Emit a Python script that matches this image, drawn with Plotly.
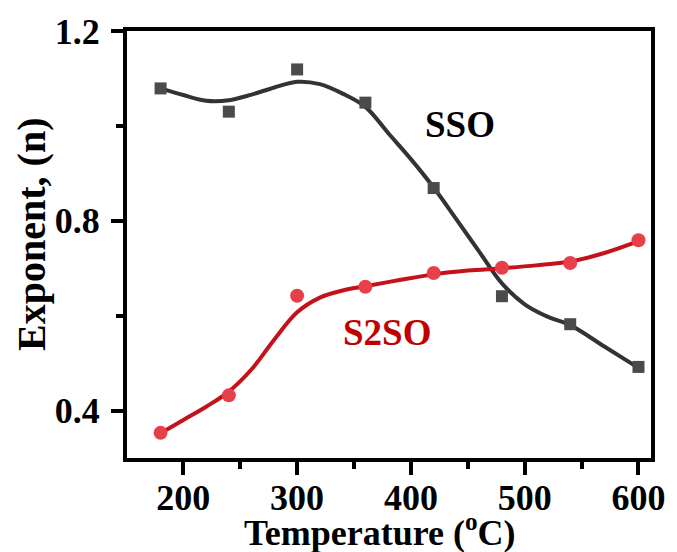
import plotly.graph_objects as go

# Measured data points
temps = [180, 240, 300, 360, 420, 480, 540, 600]
sso_n = [1.079, 1.030, 1.119, 1.049, 0.869, 0.641, 0.582, 0.492]
s2so_n = [0.353, 0.432, 0.642, 0.661, 0.690, 0.701, 0.711, 0.759]

# Smoothed fit curves
sso_fit_t = [180, 200, 220, 240, 260, 280, 300, 320, 340, 360, 380, 400, 420, 440, 460, 480, 500, 520, 540, 570, 600]
sso_fit_n = [1.079, 1.065, 1.053, 1.054, 1.066, 1.081, 1.093, 1.088, 1.068, 1.040, 0.985, 0.930, 0.870, 0.803, 0.735, 0.668, 0.624, 0.598, 0.580, 0.535, 0.490]

s2so_fit_t = [180, 200, 220, 240, 260, 280, 300, 320, 340, 360, 390, 420, 450, 480, 510, 540, 570, 600]
s2so_fit_n = [0.352, 0.380, 0.408, 0.440, 0.487, 0.550, 0.607, 0.638, 0.653, 0.662, 0.675, 0.687, 0.695, 0.700, 0.706, 0.714, 0.732, 0.757]

x_tickvals = [200, 300, 400, 500, 600]
x_ticklabels = ["200", "300", "400", "500", "600"]
y_tickvals = [0.4, 0.8, 1.2]
y_ticklabels = ["0.4", "0.8", "1.2"]

FONT = "Liberation Serif"

fig = go.Figure()
fig.add_trace(go.Scatter(x=sso_fit_t, y=sso_fit_n, mode="lines",
                         line=dict(color="#333333", width=4, shape="spline", smoothing=1.0),
                         hoverinfo="skip", showlegend=False))
fig.add_trace(go.Scatter(x=s2so_fit_t, y=s2so_fit_n, mode="lines",
                         line=dict(color="#c3121b", width=4, shape="spline", smoothing=1.0),
                         hoverinfo="skip", showlegend=False))
fig.add_trace(go.Scatter(x=temps, y=sso_n, mode="markers", name="SSO",
                         marker=dict(symbol="square", size=12, color="#4b4b4b"),
                         showlegend=False))
fig.add_trace(go.Scatter(x=temps, y=s2so_n, mode="markers", name="S2SO",
                         marker=dict(symbol="circle", size=14, color="#e8404a"),
                         showlegend=False))

axis_common = dict(
    showline=True, linewidth=4, linecolor="black", mirror=True,
    ticks="outside", tickwidth=4, tickcolor="black",
    showgrid=False, zeroline=False,
    tickfont=dict(family=FONT, size=36, color="black", weight="bold"),
)

fig.update_xaxes(range=[150.5, 611], tickvals=x_tickvals,
                 ticktext=["<b>%s</b>" % t for t in x_ticklabels], ticklen=13,
                 ticklabelstandoff=-8,
                 minor=dict(ticks="outside", ticklen=7, tickwidth=4, tickcolor="black", dtick=50, tick0=0),
                 **axis_common)
fig.update_yaxes(range=[0.30, 1.2], tickvals=y_tickvals,
                 ticktext=["<b>%s</b>" % t for t in y_ticklabels], ticklen=12,
                 ticklabelstandoff=4,
                 minor=dict(ticks="outside", ticklen=7, tickwidth=4, tickcolor="black", dtick=0.2, tick0=0),
                 **axis_common)

fig.add_annotation(x=443, y=1.002, xref="x", yref="y", text="<b>SSO</b>", showarrow=False,
                   font=dict(family=FONT, size=37, color="black", weight="bold"))
fig.add_annotation(x=379, y=0.565, xref="x", yref="y", text="<b>S2SO</b>", showarrow=False,
                   font=dict(family=FONT, size=37, color="#c00000", weight="bold"))

# Axis titles
fig.add_annotation(x=-0.182, y=0.524, xref="paper", yref="paper", text="<b>Exponent, (n)</b>",
                   textangle=-90, showarrow=False, xanchor="center", yanchor="middle",
                   font=dict(family=FONT, size=40, color="black", weight="bold"))
fig.add_annotation(x=0.482, y=-0.17, xref="paper", yref="paper",
                   text="<b>Temperature (<sup>o</sup>C)</b>",
                   showarrow=False, xanchor="center", yanchor="middle",
                   font=dict(family=FONT, size=36, color="black", weight="bold"))

fig.update_layout(width=677, height=552,
                  margin=dict(l=127, r=16, t=27, b=94),
                  paper_bgcolor="white", plot_bgcolor="white",
                  showlegend=False)

fig.write_html("out.html")
